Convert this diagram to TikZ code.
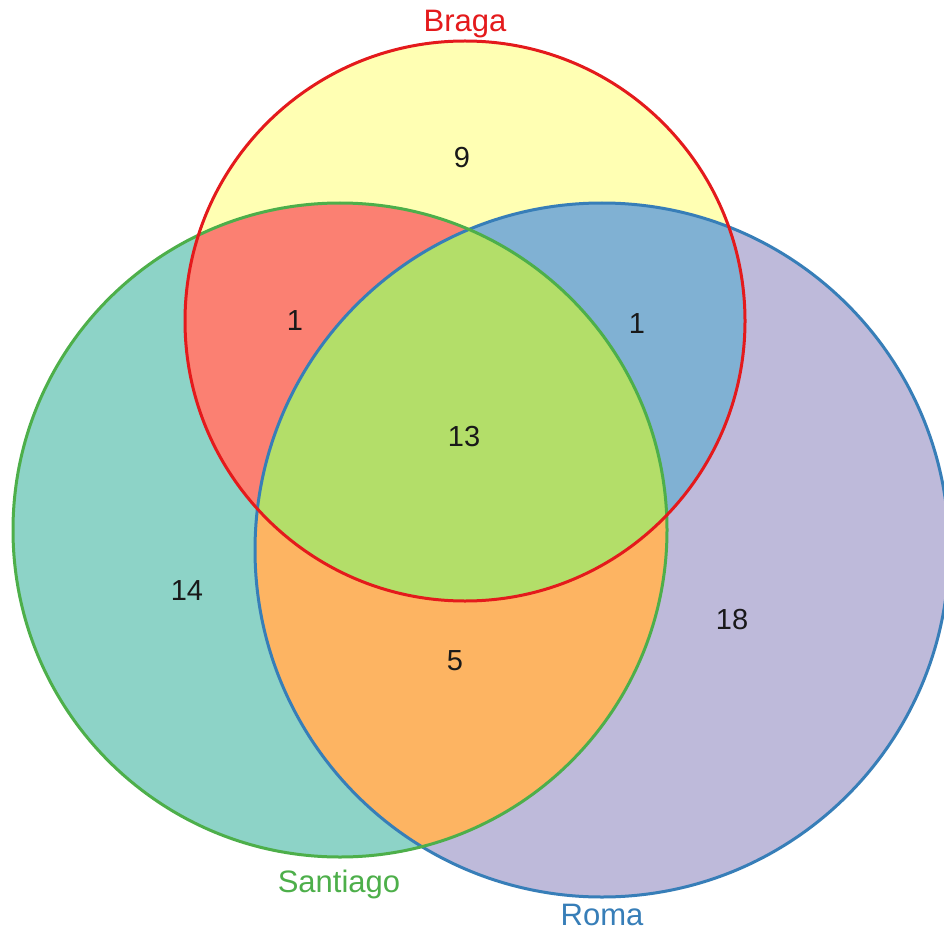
\documentclass[tikz,border=0pt]{standalone}
\usepackage{fontspec}
\setmainfont{Liberation Sans}
\definecolor{fB}{HTML}{FFFFB3}
\definecolor{fS}{HTML}{8DD3C7}
\definecolor{fR}{HTML}{BEBADA}
\definecolor{fBS}{HTML}{FB8072}
\definecolor{fBR}{HTML}{80B1D3}
\definecolor{fSR}{HTML}{FDB462}
\definecolor{fBSR}{HTML}{B3DE69}
\definecolor{lB}{HTML}{E41A1C}
\definecolor{lS}{HTML}{4DAF4A}
\definecolor{lR}{HTML}{377EB8}
\tikzset{
  num/.style={font=\fontsize{29}{32}\selectfont, text=black!90},
  setlabel/.style={font=\fontsize{31}{35}\selectfont, inner sep=0pt},
  outline/.style={line width=3pt}
}
\def\circB{(465,321) circle[radius=280pt]}
\def\circS{(340,530) circle[radius=327pt]}
\def\circR{(602,550) circle[radius=347pt]}
\begin{document}
\begin{tikzpicture}[x=1pt,y=-1pt]
\useasboundingbox (0,0) rectangle (944,933);
\fill[white] (0,0) rectangle (944,933);
% single-set fills
\fill[fB] \circB;
\fill[fS] \circS;
\fill[fR] \circR;
% pairwise
\begin{scope}\clip \circB; \fill[fBS] \circS; \end{scope}
\begin{scope}\clip \circB; \fill[fBR] \circR; \end{scope}
\begin{scope}\clip \circS; \fill[fSR] \circR; \end{scope}
\begin{scope}\clip \circB; \clip \circS; \fill[fBSR] \circR; \end{scope}
% outlines
\draw[outline, lR] \circR;
\draw[outline, lS] \circS;
\draw[outline, lB] \circB;
% counts
\node[num] (n9) at (462,158) {9};
\node[num] (n1a) at (295,321) {1};
\node[num] (n1b) at (637,324) {1};
\node[num] (n13) at (464,437) {13};
\node[num] (n14) at (187,591) {14};
\node[num] (n18) at (732,620) {18};
\node[num] (n5) at (455,661) {5};
% labels
\node[setlabel, text=lB] (lbB) at (465,24) {Braga};
\node[setlabel, text=lS] (lbS) at (339,884) {Santiago};
\node[setlabel, text=lR] (lbR) at (602,915) {Roma};
\end{tikzpicture}
\end{document}
